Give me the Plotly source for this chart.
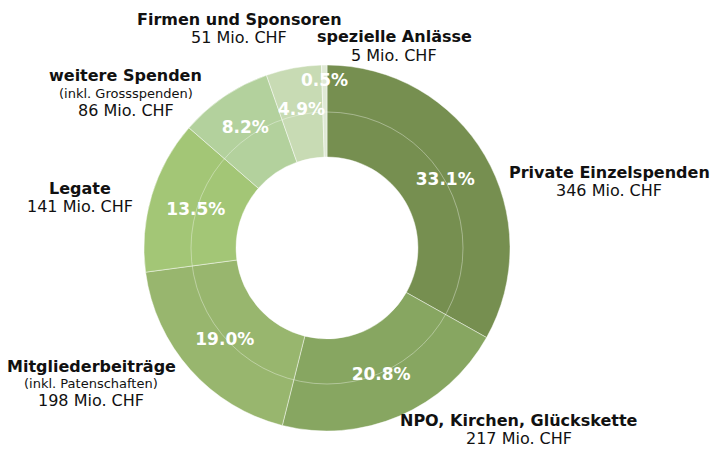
import math
import plotly.graph_objects as go

categories = ["Private Einzelspenden", "NPO, Kirchen, Glückskette", "Mitgliederbeiträge",
              "Legate", "weitere Spenden", "Firmen und Sponsoren", "spezielle Anlässe"]
values = [346, 217, 198, 141, 86, 51, 5]
notes = ["", "", "(inkl. Patenschaften)", "", "(inkl. Grossspenden)", "", ""]
unit = "Mio. CHF"

colors = ["#768f50", "#87a661", "#98b66e", "#a3c676", "#b3d19d", "#c8dbb4", "#dfe9d5"]

# outer label anchor (pixels: x centre, y centre of first line, from top-left)
label_pos = [(609, 172), (519, 420), (91, 366), (80, 189), (126, 76), (239, 20), (394, 37)]
# radius (px) for percent labels of narrow slices placed manually; None = automatic
pct_r = [None, None, None, None, None, 141, 168]

W, H = 712, 450
cx, cy, R = 327, 248, 183
FONT = "DejaVu Sans"

total = sum(values)
texts = ["" if r is not None else "%{percent:.1%}" for r in pct_r]

fig = go.Figure()
fig.add_trace(go.Pie(
    labels=categories, values=values, sort=False, direction="clockwise", rotation=0,
    hole=0.497,
    marker=dict(colors=colors, line=dict(color="rgba(255,255,255,0.45)", width=1)),
    texttemplate=texts, textposition="inside",
    insidetextorientation="horizontal",
    textfont=dict(family=FONT, size=17, color="white", weight="bold"),
    hoverinfo="label+value+percent", showlegend=False,
    domain=dict(x=[(cx - R) / W, (cx + R) / W], y=[(H - cy - R) / H, (H - cy + R) / H]),
))

r_mid = 136
fig.add_shape(type="circle", xref="paper", yref="paper",
              x0=(cx - r_mid) / W, x1=(cx + r_mid) / W,
              y0=(H - cy - r_mid) / H, y1=(H - cy + r_mid) / H,
              line=dict(color="rgba(255,255,255,0.45)", width=0.8), layer="above")

# manual percent labels for narrow slices (placed on slice bisector)
cum = 0
for v, r in zip(values, pct_r):
    frac = v / total
    if r is not None:
        ang = 2 * math.pi * (cum + frac / 2)
        px = cx + r * math.sin(ang)
        py = cy - r * math.cos(ang)
        fig.add_annotation(x=px / W, y=1 - py / H, xref="paper", yref="paper",
                           text=f"<b>{frac * 100:.1f}%</b>", showarrow=False,
                           xanchor="center", yanchor="middle",
                           font=dict(family=FONT, size=17, color="white"))
    cum += frac


def add_line(x, y, text, size, bold=False):
    fig.add_annotation(x=x / W, y=1 - y / H, xref="paper", yref="paper",
                       text=f"<b>{text}</b>" if bold else text, showarrow=False,
                       xanchor="center", yanchor="middle", align="center",
                       font=dict(family=FONT, size=size, color="#111111"))


for cat, val, note, (lx, ly) in zip(categories, values, notes, label_pos):
    add_line(lx, ly, cat, 16, bold=True)
    if note:
        add_line(lx, ly + 17.5, note, 13)
        add_line(lx, ly + 34, f"{val} {unit}", 16)
    else:
        add_line(lx, ly + 18, f"{val} {unit}", 16)

fig.update_layout(width=W, height=H, margin=dict(l=0, r=0, t=0, b=0),
                  paper_bgcolor="white", plot_bgcolor="white")
fig.write_html("out.html", config={"displayModeBar": False},
               post_script="document.body.style.margin='0';document.body.style.overflow='hidden';")
